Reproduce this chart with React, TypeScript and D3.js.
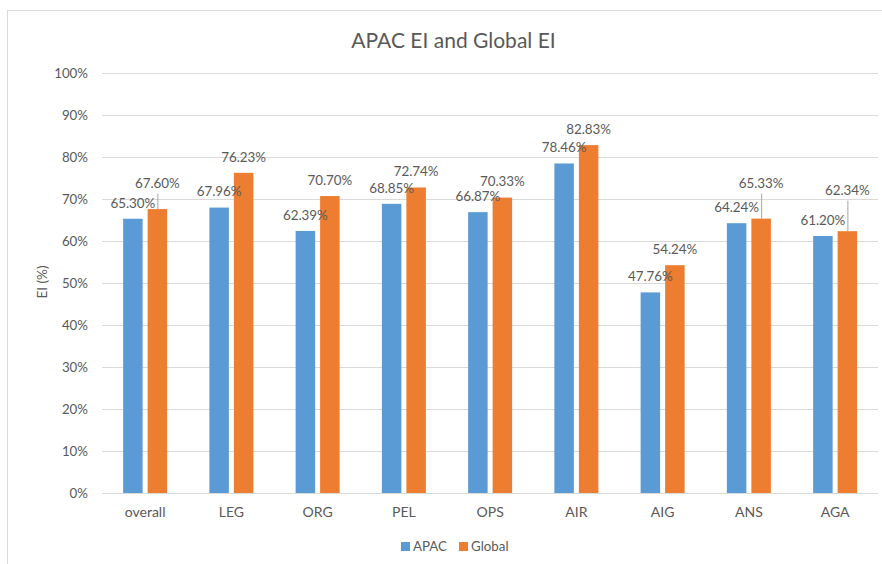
import React from "react";
import * as d3 from "d3";

// Engagement index by dimension, APAC vs Global (percent)
const categories = ["overall", "LEG", "ORG", "PEL", "OPS", "AIR", "AIG", "ANS", "AGA"];
const seriesNames = ["APAC", "Global"];
const apacValues = [65.3, 67.96, 62.39, 68.85, 66.87, 78.46, 47.76, 64.24, 61.2];
const globalValues = [67.6, 76.23, 70.7, 72.74, 70.33, 82.83, 54.24, 65.33, 62.34];
const yTicks = [0, 10, 20, 30, 40, 50, 60, 70, 80, 90, 100];

const W = 882;
const H = 564;
const colors: Record<string, string> = { APAC: "#5B9BD5", Global: "#ED7D31" };
const textColor = "#595959";
const gridColor = "#D9D9D9";
const font = "Lato, 'Open Sans', sans-serif";

// Labels that sit higher than the default, joined to their bar by a leader line
const raisedLabels: Record<string, Record<string, number>> = {
  Global: { overall: 26, ANS: 35.5, AGA: 41 },
};

export default function App() {
  const x = d3.scaleBand<string>().domain(categories).range([102, 878.25]).padding(0);
  const xSub = d3
    .scaleBand<string>()
    .domain(seriesNames)
    .range([-24.5, 24.5])
    .paddingInner(5 / 24.5)
    .paddingOuter(2.5 / 24.5);
  const y = d3.scaleLinear().domain([0, 100]).range([493, 73]);

  const series = [
    { name: "APAC", values: apacValues },
    { name: "Global", values: globalValues },
  ];

  const fmt = (v: number) => v.toFixed(2) + "%";

  return (
    <svg
      width={W}
      height={H}
      style={{ position: "absolute", left: 0, top: 0, background: "#fff" }}
      fontFamily={font}
    >
      <rect x={0} y={0} width={W} height={H} fill="#fff" />
      <rect x={7.5} y={10.5} width={W + 20} height={H + 20} fill="none" stroke={gridColor} strokeWidth={1} />

      <text x={453.5} y={48} textAnchor="middle" fontSize={21} fill={textColor}>
        APAC EI and Global EI
      </text>

      {/* gridlines and y ticks */}
      {yTicks.map((t) => (
        <g key={t}>
          <line x1={102} x2={878} y1={Math.round(y(t)) + 0.5} y2={Math.round(y(t)) + 0.5} stroke={gridColor} strokeWidth={1} />
          <text x={88} y={y(t) + 4.8} textAnchor="end" fontSize={13.3} fill={textColor}>
            {t}%
          </text>
        </g>
      ))}

      <text
        transform="translate(42,282) rotate(-90)"
        textAnchor="middle"
        dominantBaseline="central"
        fontSize={13.5}
        fill={textColor}
      >
        EI (%)
      </text>

      {/* bars */}
      {series.map((s) =>
        s.values.map((v, i) => {
          const cx = x(categories[i])! + x.bandwidth() / 2;
          const bx = cx + xSub(s.name)!;
          return (
            <rect
              key={s.name + i}
              x={bx}
              y={y(v)}
              width={xSub.bandwidth()}
              height={y(0) - y(v)}
              fill={colors[s.name]}
            />
          );
        })
      )}

      {/* data labels */}
      {series.map((s) =>
        s.values.map((v, i) => {
          const cat = categories[i];
          const cx = x(cat)! + x.bandwidth() / 2;
          const bc = cx + xSub(s.name)! + xSub.bandwidth() / 2;
          const lift = raisedLabels[s.name]?.[cat];
          const mid = y(v) - (lift ?? 16);
          return (
            <g key={"l" + s.name + i}>
              {lift !== undefined && (
                <line x1={bc + 0.5} x2={bc + 0.5} y1={mid + 10.5} y2={y(v)} stroke="#A6A6A6" strokeWidth={1} />
              )}
              <text x={bc} y={mid + 4.8} textAnchor="middle" fontSize={13.4} fill={textColor}>
                {fmt(v)}
              </text>
            </g>
          );
        })
      )}

      {/* category labels */}
      {categories.map((c) => (
        <text key={c} x={x(c)! + x.bandwidth() / 2} y={517} textAnchor="middle" fontSize={14} fill={textColor}>
          {c}
        </text>
      ))}

      {/* legend */}
      <g>
        <rect x={401} y={542} width={9} height={9} fill={colors.APAC} />
        <text x={413} y={550.5} fontSize={13.3} fill={textColor}>
          APAC
        </text>
        <rect x={459} y={542} width={9} height={9} fill={colors.Global} />
        <text x={471} y={550.5} fontSize={13.3} fill={textColor}>
          Global
        </text>
      </g>
    </svg>
  );
}
